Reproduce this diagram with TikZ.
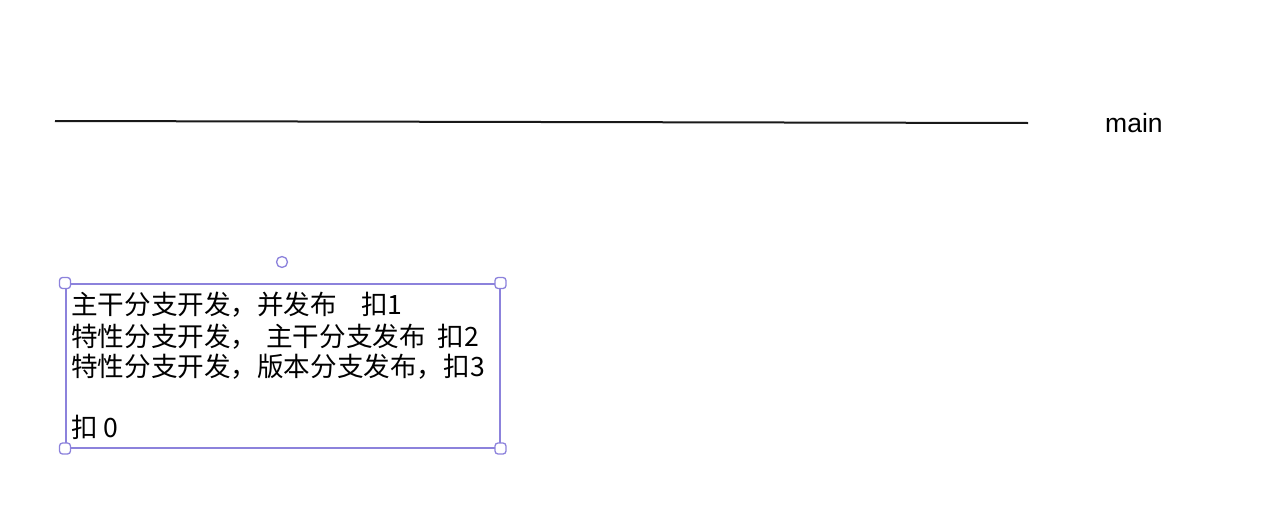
\documentclass[tikz,border=0pt]{standalone}
\usepackage{fontspec}
\setmainfont{Liberation Sans}
\newfontfamily\cjk{Noto Sans CJK SC}
\definecolor{selcol}{RGB}{140,130,220}
\tikzset{
  cjktext/.style={anchor=base west, inner sep=0pt, font=\cjk\fontsize{26.6}{31}\selectfont},
  handle/.style={draw=selcol, fill=white, line width=1.3pt, rounded corners=3pt, minimum size=11pt, inner sep=0pt},
}
\begin{document}
\begin{tikzpicture}[x=1pt,y=-1pt]
\useasboundingbox (0,0) rectangle (1262,522);
\coordinate (l1) at (55,121);
\coordinate (l2) at (1028,123);
\draw[line width=2pt, black!90] (l1) -- (l2);
\node[anchor=base west, inner sep=0pt, font=\fontsize{26.5}{30}\selectfont] (main) at (1105,132) {main};

\node[draw=selcol, line width=1.5pt, minimum width=434pt, minimum height=164pt, anchor=north west, inner sep=0pt] (box) at (65,283) {};
\node[cjktext] (t1) at (71,314) {主干分支开发，并发布\hspace{24pt}扣1};
\node[cjktext] (t2) at (71,346) {特性分支开发，\hspace{9pt}主干分支发布\hspace{12pt}扣2};
\node[cjktext] (t3) at (71,376) {特性分支开发，版本分支发布，扣3};
\node[cjktext] (t4) at (71,437) {扣 0};

\node[handle] (h1) at (box.north west) {};
\node[handle] (h2) at (box.north east) {};
\node[handle] (h3) at (box.south west) {};
\node[handle] (h4) at (box.south east) {};
\node[draw=selcol, fill=white, line width=1.3pt, circle, minimum size=11pt, inner sep=0pt] (rot) at (282,262) {};
\end{tikzpicture}
\end{document}
